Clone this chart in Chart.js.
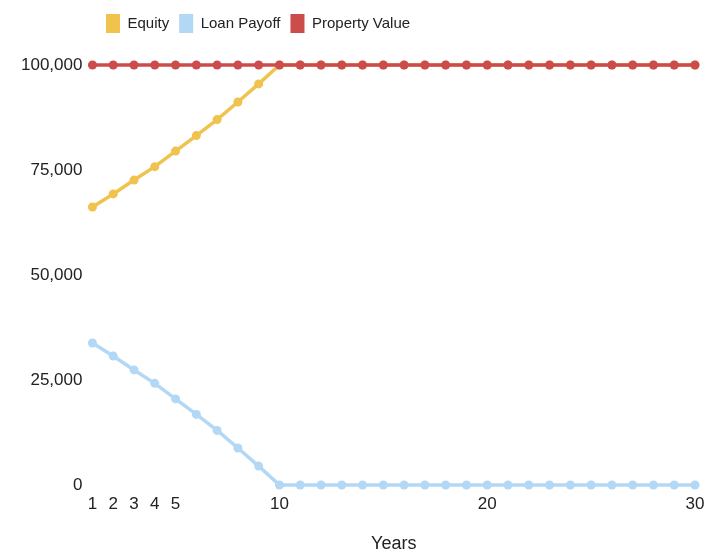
<!DOCTYPE html>
<html>
<head>
<meta charset="utf-8">
<script src="https://cdn.jsdelivr.net/npm/chart.js@4"></script>
<style>
  html, body { margin: 0; padding: 0; background: #fff; }
  #wrap { width: 721px; height: 552px; }
</style>
</head>
<body>
<div id="wrap"><canvas id="chart"></canvas></div>
<script>
const years = [1,2,3,4,5,6,7,8,9,10,11,12,13,14,15,16,17,18,19,20,21,22,23,24,25,26,27,28,29,30];
const equity = [66200, 69300, 72600, 75800, 79500, 83200, 87000, 91200, 95500, 100000,
  100000, 100000, 100000, 100000, 100000, 100000, 100000, 100000, 100000, 100000,
  100000, 100000, 100000, 100000, 100000, 100000, 100000, 100000, 100000, 100000];
const loanPayoff = [33800, 30700, 27400, 24200, 20500, 16800, 13000, 8800, 4500, 0,
  0, 0, 0, 0, 0, 0, 0, 0, 0, 0, 0, 0, 0, 0, 0, 0, 0, 0, 0, 0];
const propertyValue = [100000, 100000, 100000, 100000, 100000, 100000, 100000, 100000, 100000, 100000,
  100000, 100000, 100000, 100000, 100000, 100000, 100000, 100000, 100000, 100000,
  100000, 100000, 100000, 100000, 100000, 100000, 100000, 100000, 100000, 100000];
const xTicks = [1, 2, 3, 4, 5, 10, 20, 30];
const yTicks = [0, 25000, 50000, 75000, 100000];

const toPoints = vals => vals.map((v, i) => ({ x: years[i], y: v }));

function line(label, vals, color, order) {
  return {
    label: label,
    data: toPoints(vals),
    order: order,
    clip: false,
    borderColor: color,
    backgroundColor: color,
    borderWidth: 3.5,
    pointRadius: 4.5,
    pointBorderWidth: 0,
    pointHoverRadius: 4.5,
    fill: false,
    tension: 0
  };
}

// push the legend a bit to the right and leave room under it
const legendTweak = {
  id: 'legendTweak',
  beforeInit(chart) {
    const fit = chart.legend.fit;
    chart.legend.fit = function () {
      fit.call(this);
      this.height += 22;
    };
  },
  afterLayout(chart) {
    chart.legend.left += 77;
    chart.legend.right += 77;
  }
};

Chart.defaults.font.family = '"Liberation Sans", Arial, sans-serif';
Chart.defaults.color = '#222';

new Chart(document.getElementById('chart'), {
  type: 'line',
  data: {
    datasets: [
      line('Equity', equity, '#f0c24e', 2),
      line('Loan Payoff', loanPayoff, '#b2d8f6', 1),
      line('Property Value', propertyValue, '#cc4b4b', 0)
    ]
  },
  options: {
    responsive: true,
    maintainAspectRatio: false,
    animation: false,
    layout: { padding: { left: 19, right: 26, top: 4, bottom: 2 } },
    plugins: {
      legend: {
        position: 'top',
        align: 'start',
        labels: {
          boxWidth: 14,
          boxHeight: 19,
          padding: 10,
          font: { size: 15 },
          sort: (a, b) => a.datasetIndex - b.datasetIndex,
          generateLabels: chart => Chart.defaults.plugins.legend.labels.generateLabels(chart)
            .map(item => Object.assign(item, { lineWidth: 0 }))
        }
      },
      tooltip: { enabled: false }
    },
    scales: {
      x: {
        type: 'linear',
        min: 1,
        max: 30,
        grid: { display: false },
        border: { display: false },
        afterBuildTicks: axis => { axis.ticks = xTicks.map(v => ({ value: v })); },
        ticks: { font: { size: 17 }, maxRotation: 0, autoSkip: false, padding: 1 },
        title: { display: true, text: 'Years', font: { size: 18 }, padding: { top: 18, bottom: -5 } }
      },
      y: {
        min: 0,
        max: 100000,
        grid: { display: false },
        border: { display: false },
        afterBuildTicks: axis => { axis.ticks = yTicks.map(v => ({ value: v })); },
        ticks: {
          font: { size: 17 },
          padding: 2,
          callback: v => v.toLocaleString('en-US')
        }
      }
    }
  },
  plugins: [legendTweak]
});
</script>
</body>
</html>
